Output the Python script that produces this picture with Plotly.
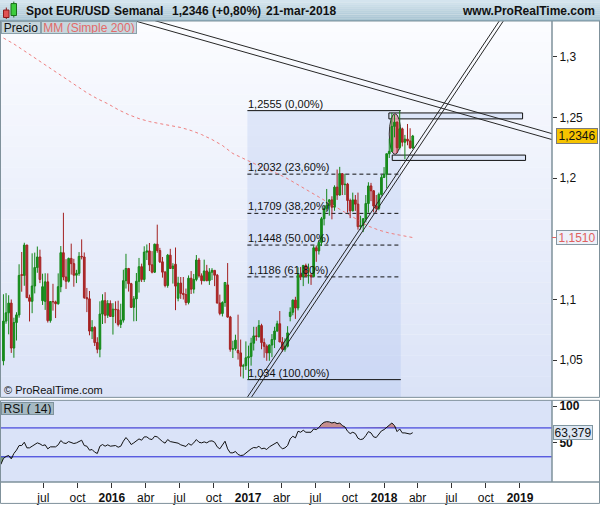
import numpy as np
import pandas as pd
import plotly.graph_objects as go

FONT = "Liberation Sans, Arial, sans-serif"

# ---------------- data (weekly EUR/USD) ----------------
candle_start = "2015-03-16"
open_px = [
    1.0495, 1.0822, 1.0890, 1.0970, 1.0600, 1.0810, 1.0873, 1.1205, 1.1198, 1.1448,
    1.1015, 1.0985, 1.1111, 1.1263, 1.1350, 1.0990, 1.0985, 1.1145, 1.0826, 1.0983,
    1.0980, 1.0965, 1.1105, 1.1385, 1.1185, 1.1150, 1.1338, 1.1295, 1.1200, 1.1215,
    1.1355, 1.1350, 1.1015, 1.1005, 1.0740, 1.0770, 1.0645, 1.0590, 1.0880, 1.0990,
    1.0870, 1.0967, 1.0860, 1.0920, 1.0915, 1.0795, 1.0830, 1.1155, 1.1255, 1.1130,
    1.0935, 1.1005, 1.1150, 1.1270, 1.1165, 1.1390, 1.1400, 1.1285, 1.1225, 1.1455,
    1.1403, 1.1310, 1.1225, 1.1115, 1.1365, 1.1255, 1.1290, 1.1010, 1.1135, 1.1050,
    1.1040, 1.0975, 1.1175, 1.1085, 1.1165, 1.1325, 1.1195, 1.1155, 1.1235, 1.1155,
    1.1225, 1.1240, 1.1200, 1.0970, 1.0885, 1.0975, 1.1120, 1.0855, 1.0590, 1.0595,
    1.0580, 1.0560, 1.0450, 1.0455, 1.0520, 1.0530, 1.0640, 1.0700, 1.0695, 1.0785,
    1.0645, 1.0615, 1.0560, 1.0625, 1.0670, 1.0740, 1.0800, 1.0650, 1.0590, 1.0615,
    1.0860, 1.0895, 1.0995, 1.0930, 1.1205, 1.1185, 1.1280, 1.1195, 1.1200, 1.1190,
    1.1425, 1.1400, 1.1470, 1.1665, 1.1750, 1.1775, 1.1820, 1.1760, 1.1925, 1.1860,
    1.2035, 1.1945, 1.1950, 1.1815, 1.1730, 1.1820, 1.1785, 1.1600, 1.1610, 1.1665,
    1.1790, 1.1935, 1.1895, 1.1770, 1.1750, 1.1865, 1.2005, 1.2030, 1.2200, 1.2220,
    1.2425, 1.2460, 1.2250, 1.2405, 1.2295, 1.2320, 1.2305, 1.2248,
]
high_px = [
    1.1043, 1.1052, 1.1035, 1.1000, 1.0850, 1.0895, 1.1290, 1.1391, 1.1467, 1.1450,
    1.1040, 1.1380, 1.1386, 1.1436, 1.1410, 1.1212, 1.1216, 1.1215, 1.0985, 1.1129,
    1.0990, 1.1215, 1.1440, 1.1714, 1.1332, 1.1345, 1.1460, 1.1335, 1.1244, 1.1390,
    1.1495, 1.1387, 1.1095, 1.1070, 1.0830, 1.0780, 1.0689, 1.0985, 1.1043, 1.1060,
    1.0995, 1.0993, 1.0970, 1.0985, 1.0990, 1.0965, 1.1245, 1.1376, 1.1260, 1.1137,
    1.1028, 1.1218, 1.1342, 1.1295, 1.1438, 1.1453, 1.1465, 1.1398, 1.1460, 1.1616,
    1.1425, 1.1350, 1.1235, 1.1375, 1.1417, 1.1299, 1.1428, 1.1187, 1.1185, 1.1185,
    1.1090, 1.1198, 1.1234, 1.1210, 1.1366, 1.1342, 1.1215, 1.1328, 1.1285, 1.1258,
    1.1258, 1.1240, 1.1210, 1.1040, 1.0985, 1.1125, 1.1300, 1.0865, 1.0660, 1.0710,
    1.0875, 1.0670, 1.0470, 1.0655, 1.0620, 1.0685, 1.0775, 1.0775, 1.0830, 1.0800,
    1.0680, 1.0630, 1.0630, 1.0715, 1.0775, 1.0825, 1.0905, 1.0690, 1.0680, 1.0780,
    1.0935, 1.1000, 1.1022, 1.1265, 1.1268, 1.1285, 1.1295, 1.1295, 1.1215, 1.1445,
    1.1445, 1.1490, 1.1680, 1.1775, 1.1910, 1.1825, 1.1850, 1.1940, 1.2070, 1.2092,
    1.2040, 1.2035, 1.1960, 1.1830, 1.1880, 1.1860, 1.1880, 1.1690, 1.1670, 1.1860,
    1.1965, 1.1960, 1.1900, 1.1860, 1.1880, 1.2025, 1.2090, 1.2200, 1.2325, 1.2537,
    1.2520, 1.2465, 1.2555, 1.2415, 1.2355, 1.2445, 1.2410, 1.2355,
]
low_px = [
    1.0458, 1.0800, 1.0713, 1.0560, 1.0520, 1.0662, 1.0850, 1.1064, 1.1113, 1.1015,
    1.0819, 1.0887, 1.1050, 1.1220, 1.1135, 1.0955, 1.0914, 1.0810, 1.0809, 1.0908,
    1.0847, 1.0957, 1.1060, 1.1158, 1.1087, 1.1140, 1.1205, 1.1105, 1.1135, 1.1195,
    1.1330, 1.1005, 1.0896, 1.0705, 1.0674, 1.0617, 1.0557, 1.0524, 1.0798, 1.0804,
    1.0848, 1.0860, 1.0711, 1.0805, 1.0778, 1.0765, 1.0810, 1.1090, 1.1065, 1.0930,
    1.0820, 1.0822, 1.1057, 1.1144, 1.1144, 1.1325, 1.1234, 1.1215, 1.1218, 1.1385,
    1.1300, 1.1180, 1.1100, 1.1097, 1.1251, 1.1131, 1.0912, 1.0985, 1.1005, 1.1000,
    1.0952, 1.0960, 1.1045, 1.1050, 1.1150, 1.1180, 1.1123, 1.1150, 1.1150, 1.1120,
    1.1160, 1.1110, 1.0970, 1.0870, 1.0860, 1.0940, 1.0850, 1.0570, 1.0518, 1.0580,
    1.0505, 1.0365, 1.0350, 1.0420, 1.0340, 1.0455, 1.0580, 1.0660, 1.0685, 1.0590,
    1.0520, 1.0495, 1.0495, 1.0525, 1.0600, 1.0735, 1.0650, 1.0570, 1.0570, 1.0605,
    1.0820, 1.0870, 1.0840, 1.0910, 1.1160, 1.1110, 1.1185, 1.1130, 1.1120, 1.1185,
    1.1310, 1.1370, 1.1440, 1.1610, 1.1730, 1.1690, 1.1660, 1.1730, 1.1820, 1.1855,
    1.1860, 1.1860, 1.1715, 1.1670, 1.1725, 1.1730, 1.1575, 1.1575, 1.1555, 1.1635,
    1.1715, 1.1810, 1.1718, 1.1717, 1.1735, 1.1855, 1.2000, 1.1915, 1.2165, 1.2215,
    1.2335, 1.2205, 1.2235, 1.2260, 1.2155, 1.2270, 1.2240, 1.2240,
]
close_px = [
    1.0822, 1.0890, 1.0970, 1.0600, 1.0810, 1.0873, 1.1198, 1.1198, 1.1448, 1.1015,
    1.0985, 1.1111, 1.1263, 1.1350, 1.1165, 1.1105, 1.1145, 1.0826, 1.0983, 1.0980,
    1.0965, 1.1105, 1.1385, 1.1185, 1.1150, 1.1338, 1.1295, 1.1200, 1.1215, 1.1355,
    1.1350, 1.1015, 1.1005, 1.0740, 1.0770, 1.0645, 1.0590, 1.0880, 1.0990, 1.0870,
    1.0967, 1.0860, 1.0920, 1.0915, 1.0795, 1.0830, 1.1155, 1.1255, 1.1130, 1.0935,
    1.1005, 1.1150, 1.1270, 1.1165, 1.1390, 1.1400, 1.1285, 1.1225, 1.1455, 1.1403,
    1.1310, 1.1225, 1.1115, 1.1365, 1.1255, 1.1275, 1.1110, 1.1135, 1.1050, 1.1040,
    1.0975, 1.1175, 1.1085, 1.1165, 1.1325, 1.1195, 1.1155, 1.1235, 1.1155, 1.1225,
    1.1240, 1.1200, 1.0970, 1.0885, 1.0975, 1.1140, 1.0855, 1.0590, 1.0595, 1.0665,
    1.0560, 1.0450, 1.0455, 1.0520, 1.0530, 1.0640, 1.0700, 1.0695, 1.0785, 1.0645,
    1.0615, 1.0560, 1.0625, 1.0670, 1.0740, 1.0800, 1.0650, 1.0590, 1.0615, 1.0725,
    1.0895, 1.0995, 1.0930, 1.1205, 1.1185, 1.1280, 1.1195, 1.1200, 1.1190, 1.1425,
    1.1400, 1.1470, 1.1665, 1.1750, 1.1775, 1.1820, 1.1760, 1.1925, 1.1860, 1.2035,
    1.1945, 1.1950, 1.1815, 1.1730, 1.1820, 1.1785, 1.1600, 1.1610, 1.1665, 1.1790,
    1.1935, 1.1895, 1.1770, 1.1750, 1.1865, 1.2005, 1.2030, 1.2200, 1.2220, 1.2425,
    1.2460, 1.2250, 1.2405, 1.2295, 1.2320, 1.2305, 1.2248, 1.2346,
]

rsi_start = "2015-03-09"
rsi_14 = [
    19.4, 27.7, 30.5, 31.8, 27.2, 34.6, 39.2, 45.6, 45.6, 50.2,
    42.4, 42.4, 44.7, 47.0, 49.3, 47.9, 45.6, 46.6, 41.0, 43.8,
    43.3, 43.8, 46.6, 52.5, 49.3, 48.4, 51.1, 50.2, 48.4, 49.3,
    50.7, 53.0, 45.6, 44.7, 39.2, 40.1, 36.4, 34.6, 44.7, 47.0,
    44.7, 46.6, 44.7, 45.6, 45.6, 43.3, 44.7, 51.6, 56.7, 52.5,
    47.0, 49.3, 52.5, 54.8, 53.0, 57.6, 57.6, 54.8, 53.9, 58.5,
    57.6, 53.9, 51.1, 48.9, 53.9, 51.1, 50.2, 49.3, 48.9, 46.6,
    45.6, 44.3, 48.4, 46.1, 49.3, 53.9, 50.2, 49.3, 50.7, 49.3,
    51.6, 52.1, 50.2, 43.8, 41.0, 45.6, 51.6, 41.0, 35.5, 35.5,
    37.4, 33.2, 31.8, 32.3, 35.5, 37.4, 41.0, 42.9, 42.4, 44.7,
    41.0, 42.0, 40.1, 43.8, 45.6, 48.4, 50.2, 44.7, 41.0, 42.4,
    45.6, 54.8, 58.5, 56.2, 65.4, 64.0, 66.8, 64.0, 64.0, 64.0,
    68.6, 67.7, 70.5, 75.1, 77.8, 78.7, 78.3, 76.9, 77.8, 76.0,
    76.9, 73.2, 71.4, 65.4, 62.2, 64.0, 62.2, 55.7, 53.9, 54.8,
    59.4, 64.9, 63.1, 57.6, 56.7, 60.8, 65.9, 67.7, 70.9, 73.2,
    76.9, 73.2, 64.9, 68.6, 63.1, 63.1, 62.2, 61.5, 63.379,
]

ma200_step = 4
ma200 = [
    1.3153, 1.3104, 1.3047, 1.2989, 1.2932, 1.2875, 1.2817, 1.2760, 1.2702, 1.2653,
    1.2612, 1.2563, 1.2522, 1.2489, 1.2465, 1.2448, 1.2432, 1.2416, 1.2391, 1.2358,
    1.2317, 1.2268, 1.2202, 1.2161, 1.2120, 1.2080, 1.2047, 1.2006, 1.1957, 1.1907,
    1.1858, 1.1801, 1.1752, 1.1702, 1.1653, 1.1604, 1.1571, 1.1547, 1.1530, 1.1518,
    1.1510,
]

fib_levels = [1.2555, 1.2032, 1.1709, 1.1448, 1.1186, 1.034]
fib_labels = ["1,2555 (0,00%)", "1,2032 (23,60%)", "1,1709 (38,20%)",
              "1,1448 (50,00%)", "1,1186 (61,80%)", "1,034 (100,00%)"]
fib_span = ["2016-12-30", "2018-02-15"]

trend_lines = [
    (["2015-11-30", "2019-08-04"], [1.3376, 1.2204]),
    (["2015-11-30", "2019-08-04"], [1.3425, 1.2253]),
    (["2016-12-10", "2018-11-26"], [1.0104, 1.3383]),
    (["2016-12-21", "2018-12-07"], [1.0104, 1.3383]),
]
zone_boxes = [
    (["2018-01-14", "2019-01-08"], [1.2487, 1.2536]),
    (["2018-01-23", "2019-01-16"], [1.2145, 1.2189]),
]
ellipse_box = (["2018-01-15", "2018-02-15"], [1.2194, 1.2530])

price_ticks = [1.05, 1.1, 1.2, 1.25, 1.3]
price_ticktext = ["1,05", "1,1", "1,2", "1,25", "1,3"]
date_ticks = ["2015-07-01", "2015-10-01", "2016-01-01", "2016-04-01", "2016-07-01",
              "2016-10-01", "2017-01-01", "2017-04-01", "2017-07-01", "2017-10-01",
              "2018-01-01", "2018-04-01", "2018-07-01", "2018-10-01", "2019-01-01"]
date_ticktext = ["jul", "oct", "<b>2016</b>", "abr", "jul", "oct", "<b>2017</b>", "abr",
                 "jul", "oct", "<b>2018</b>", "abr", "jul", "oct", "<b>2019</b>"]
last_price = 1.2346
ma_last = 1.1510
rsi_last = 63.379

x_range = ["2015-03-09 10:00", "2019-03-28"]
price_range = [1.0194, 1.3293]
rsi_range = [-4.9, 108.2]

# ---------------- figure ----------------
W, H = 600, 506
ML, MR, MT, MB = 1, 48, 21, 22
PW, PH = W - ML - MR, H - MT - MB


def px_x(px):
    return (px - ML) / PW


def px_y(py):
    return (H - MB - py) / PH


weeks = pd.date_range(candle_start, periods=len(close_px), freq="7D")
o, h, l, c = map(np.array, (open_px, high_px, low_px, close_px))
up = c >= o
wk = np.array(weeks.strftime("%Y-%m-%d"))

fig = go.Figure()

# MA 200
ma_idx = list(range(0, len(weeks), ma200_step)) + [len(weeks) - 1]
fig.add_trace(go.Scatter(x=wk[ma_idx], y=ma200, mode="lines",
                         line=dict(color="#ee7f7f", width=1, dash="3px,3px"),
                         hoverinfo="skip"))

DAY = 86400000
for mask, fill, edge in [(up, "#2fc22f", "#15861a"), (~up, "#e26464", "#a32020")]:
    wx, wy = [], []
    for d, lo, hi in zip(wk[mask], l[mask], h[mask]):
        wx += [d, d, None]
        wy += [lo, hi, None]
    fig.add_trace(go.Scatter(x=wx, y=wy, mode="lines", line=dict(color=edge, width=1),
                             hoverinfo="skip"))
    fig.add_trace(go.Bar(x=wk[mask], base=np.minimum(o, c)[mask], y=np.abs(c - o)[mask],
                         width=4.6 * DAY,
                         marker=dict(color=fill, line=dict(color=edge, width=1)),
                         hoverinfo="skip"))

for xs, ys in trend_lines:
    fig.add_trace(go.Scatter(x=xs, y=ys, mode="lines", line=dict(color="#262626", width=1),
                             hoverinfo="skip"))

# RSI panel
rsi = np.array(rsi_14)
rdates = pd.date_range(rsi_start, periods=len(rsi), freq="7D").strftime("%Y-%m-%d")
fig.add_trace(go.Scatter(x=rdates, y=[70] * len(rsi), yaxis="y2", mode="lines",
                         line=dict(width=0), hoverinfo="skip"))
fig.add_trace(go.Scatter(x=rdates, y=np.maximum(rsi, 70), yaxis="y2", mode="lines",
                         line=dict(width=0), fill="tonexty", fillcolor="#c68f8f",
                         hoverinfo="skip"))
fig.add_trace(go.Scatter(x=rdates, y=[30] * len(rsi), yaxis="y2", mode="lines",
                         line=dict(width=0), hoverinfo="skip"))
fig.add_trace(go.Scatter(x=rdates, y=np.minimum(rsi, 30), yaxis="y2", mode="lines",
                         line=dict(width=0), fill="tonexty", fillcolor="#7fa57f",
                         hoverinfo="skip"))
for lvl in (70, 30):
    fig.add_trace(go.Scatter(x=x_range, y=[lvl, lvl], yaxis="y2", mode="lines",
                             line=dict(color="#2323d6", width=1), hoverinfo="skip"))
fig.add_trace(go.Scatter(x=rdates, y=rsi, yaxis="y2", mode="lines",
                         line=dict(color="#111111", width=1), hoverinfo="skip"))

shapes = []


def hexmix(c1, c2, t):
    a = [int(c1[i:i + 2], 16) for i in (1, 3, 5)]
    b = [int(c2[i:i + 2], 16) for i in (1, 3, 5)]
    return "rgb(%d,%d,%d)" % tuple(round(a[k] + (b[k] - a[k]) * t) for k in range(3))


def gradient(x0, x1, ytop, ybot, ctop, cbot, n):
    out = []
    for i in range(n):
        ya = ytop + (ybot - ytop) * i / n
        yb = ytop + (ybot - ytop) * (i + 1) / n
        out.append(dict(type="rect", xref="paper", yref="paper", layer="below",
                        x0=px_x(x0), x1=px_x(x1), y0=px_y(yb) - 0.0005, y1=px_y(ya),
                        fillcolor=hexmix(ctop, cbot, (i + 0.5) / n), line=dict(width=0)))
    return out


# header gradient and main / rsi backgrounds
shapes += gradient(0, 600, 0, 20.5, "#d6e6ef", "#a7c3d1", 10)
shapes += gradient(0.5, 552, 21, 399, "#fbfcff", "#dbe3f7", 36)
shapes.append(dict(type="rect", xref="paper", yref="paper", layer="below",
                   x0=px_x(0.5), x1=px_x(552), y0=px_y(484), y1=px_y(402),
                   fillcolor="#dae3f8", line=dict(width=0)))

# Fibonacci box + levels
shapes.append(dict(type="rect", xref="x", yref="y", layer="below",
                   x0=fib_span[0], x1=fib_span[1], y0=price_range[0], y1=fib_levels[0],
                   fillcolor="rgba(150,178,238,0.22)", line=dict(width=0)))
for i, lv in enumerate(fib_levels):
    solid = i in (0, len(fib_levels) - 1)
    shapes.append(dict(type="line", xref="x", yref="y", layer="below",
                       x0=fib_span[0], x1=fib_span[1], y0=lv, y1=lv,
                       line=dict(color="#111111", width=1,
                                 dash="solid" if solid else "4px,3px")))

for xs, ys in zone_boxes:
    shapes.append(dict(type="rect", xref="x", yref="y", layer="below",
                       x0=xs[0], x1=xs[1], y0=ys[0], y1=ys[1],
                       fillcolor="#dde6f9", line=dict(color="#111111", width=1)))
shapes.append(dict(type="circle", xref="x", yref="y", layer="below",
                   x0=ellipse_box[0][0], x1=ellipse_box[0][1],
                   y0=ellipse_box[1][0], y1=ellipse_box[1][1],
                   fillcolor="rgba(232,150,168,0.85)", line=dict(color="#333333", width=1)))

# frames
BORDER = "#7f919b"
for (a, b, cc, d) in [(0.5, 21, 552, 399), (552, 21, 599.5, 399), (0.5, 402, 552, 484),
                      (552, 402, 599.5, 484), (0.5, 484, 599.5, 505.5)]:
    shapes.append(dict(type="rect", xref="paper", yref="paper", layer="above",
                       x0=px_x(a), x1=px_x(cc), y0=px_y(d), y1=px_y(b),
                       line=dict(color=BORDER, width=1)))
shapes.append(dict(type="line", xref="paper", yref="paper", layer="above",
                   x0=px_x(0), x1=px_x(600), y0=px_y(20.5), y1=px_y(20.5),
                   line=dict(color="#86a2b0", width=1)))
# header icon
shapes += [
    dict(type="line", xref="paper", yref="paper", x0=px_x(6.3), x1=px_x(6.3),
         y0=px_y(19), y1=px_y(7.5), line=dict(color="#8b1a1a", width=1)),
    dict(type="rect", xref="paper", yref="paper", x0=px_x(3.5), x1=px_x(9),
         y0=px_y(17.5), y1=px_y(10), fillcolor="#e05252", line=dict(color="#8b1a1a", width=1)),
    dict(type="line", xref="paper", yref="paper", x0=px_x(13.8), x1=px_x(13.8),
         y0=px_y(17.5), y1=px_y(1.5), line=dict(color="#1a6e1a", width=1)),
    dict(type="rect", xref="paper", yref="paper", x0=px_x(11), x1=px_x(16.5),
         y0=px_y(15.5), y1=px_y(3.5), fillcolor="#3ccc3c", line=dict(color="#1a6e1a", width=1)),
]
# small red tick for MA label
shapes.append(dict(type="line", xref="paper", yref="y", layer="above",
                   x0=px_x(552), x1=px_x(556), y0=ma_last, y1=ma_last,
                   line=dict(color="#e06060", width=1)))

annotations = []


def ann(text, px, py, size=12, color="#111111", xanchor="left", **kw):
    d = dict(xref="paper", yref="paper", x=px_x(px), y=px_y(py), text=text,
             showarrow=False, xanchor=xanchor, yanchor="middle",
             font=dict(family=FONT, size=size, color=color))
    d.update(kw)
    return d


annotations += [
    ann("<b>Spot EUR/USD</b>", 24, 10.5),
    ann("<b>Semanal</b>", 112, 10.5),
    ann("<b>1,2346 (+0,80%)</b>", 170, 10.5),
    ann("<b>21-mar-2018</b>", 264, 10.5),
    ann("<b>www.ProRealTime.com</b>", 597, 10.5, xanchor="right"),
    ann("Precio", 0.5, 27.5, width=38, height=11, borderpad=0, bgcolor="#c6d6dd",
        bordercolor="#8ba1ab", borderwidth=1),
    ann("MM (Simple 200)", 40.5, 27.5, color="#e36a6a", width=94, height=11, borderpad=0,
        bgcolor="#c6d6dd", bordercolor="#8ba1ab", borderwidth=1),
    ann("RSI ( 14)", 0.5, 410, width=51, height=11, borderpad=0, bgcolor="#a5b9c3",
        bordercolor="#7d939d", borderwidth=1),
    ann("© ProRealTime.com", 2, 392, size=11),
]
for lv, txt in zip(fib_levels, fib_labels):
    annotations.append(dict(xref="x", yref="y", x=fib_span[0], y=lv, text=txt,
                            showarrow=False, xanchor="left", yanchor="bottom", borderpad=0,
                            font=dict(family=FONT, size=11, color="#111111")))
annotations += [
    dict(xref="paper", yref="y", x=px_x(555.5), y=last_price, text="1,2346",
         showarrow=False, xanchor="left", yanchor="middle", width=40, height=14,
         borderpad=0, bgcolor="#f6c300", bordercolor="#7a7a7a", borderwidth=1,
         font=dict(family=FONT, size=12, color="#111111")),
    dict(xref="paper", yref="y", x=px_x(555.5), y=ma_last, text="1,1510",
         showarrow=False, xanchor="left", yanchor="middle", width=40, height=13,
         borderpad=0, bgcolor="#edf1f9", bordercolor="#8597a2", borderwidth=1,
         font=dict(family=FONT, size=12, color="#e06060")),
    dict(xref="paper", yref="y2", x=px_x(553), y=rsi_last, text="63,379",
         showarrow=False, xanchor="left", yanchor="middle", width=38, height=13,
         borderpad=0, bgcolor="#dce6f3", bordercolor="#7f96a0", borderwidth=1,
         font=dict(family=FONT, size=12, color="#111111")),
]

fig.update_layout(
    width=W, height=H, margin=dict(l=ML, r=MR, t=MT, b=MB),
    paper_bgcolor="white", plot_bgcolor="rgba(0,0,0,0)",
    barmode="overlay", showlegend=False, hovermode=False,
    font=dict(family=FONT, size=12, color="#111111"),
    xaxis=dict(type="date", range=x_range, anchor="y2", tickvals=date_ticks,
               ticktext=date_ticktext, ticks="outside", ticklen=5, tickcolor="#333333",
               showgrid=False, zeroline=False, showline=False,
               tickfont=dict(family=FONT, size=12, color="#111111")),
    yaxis=dict(domain=[px_y(399), 1], range=price_range, side="right",
               tickvals=price_ticks, ticktext=price_ticktext, ticks="outside",
               ticklen=4, tickcolor="#333333", showgrid=False, zeroline=False,
               showline=False, tickfont=dict(family=FONT, size=12, color="#111111")),
    yaxis2=dict(domain=[0, px_y(402)], range=rsi_range, side="right", anchor="x",
                tickvals=[50, 100], ticktext=["<b>50</b>", "<b>100</b>"], ticks="outside",
                ticklen=4, tickcolor="#333333", showgrid=False, zeroline=False,
                showline=False, tickfont=dict(family=FONT, size=12, color="#111111")),
    shapes=shapes,
    annotations=annotations,
)

fig.write_html(
    "out.html",
    config={"displayModeBar": False},
    post_script="document.body.style.margin='0px';document.body.style.overflow='hidden';",
)
